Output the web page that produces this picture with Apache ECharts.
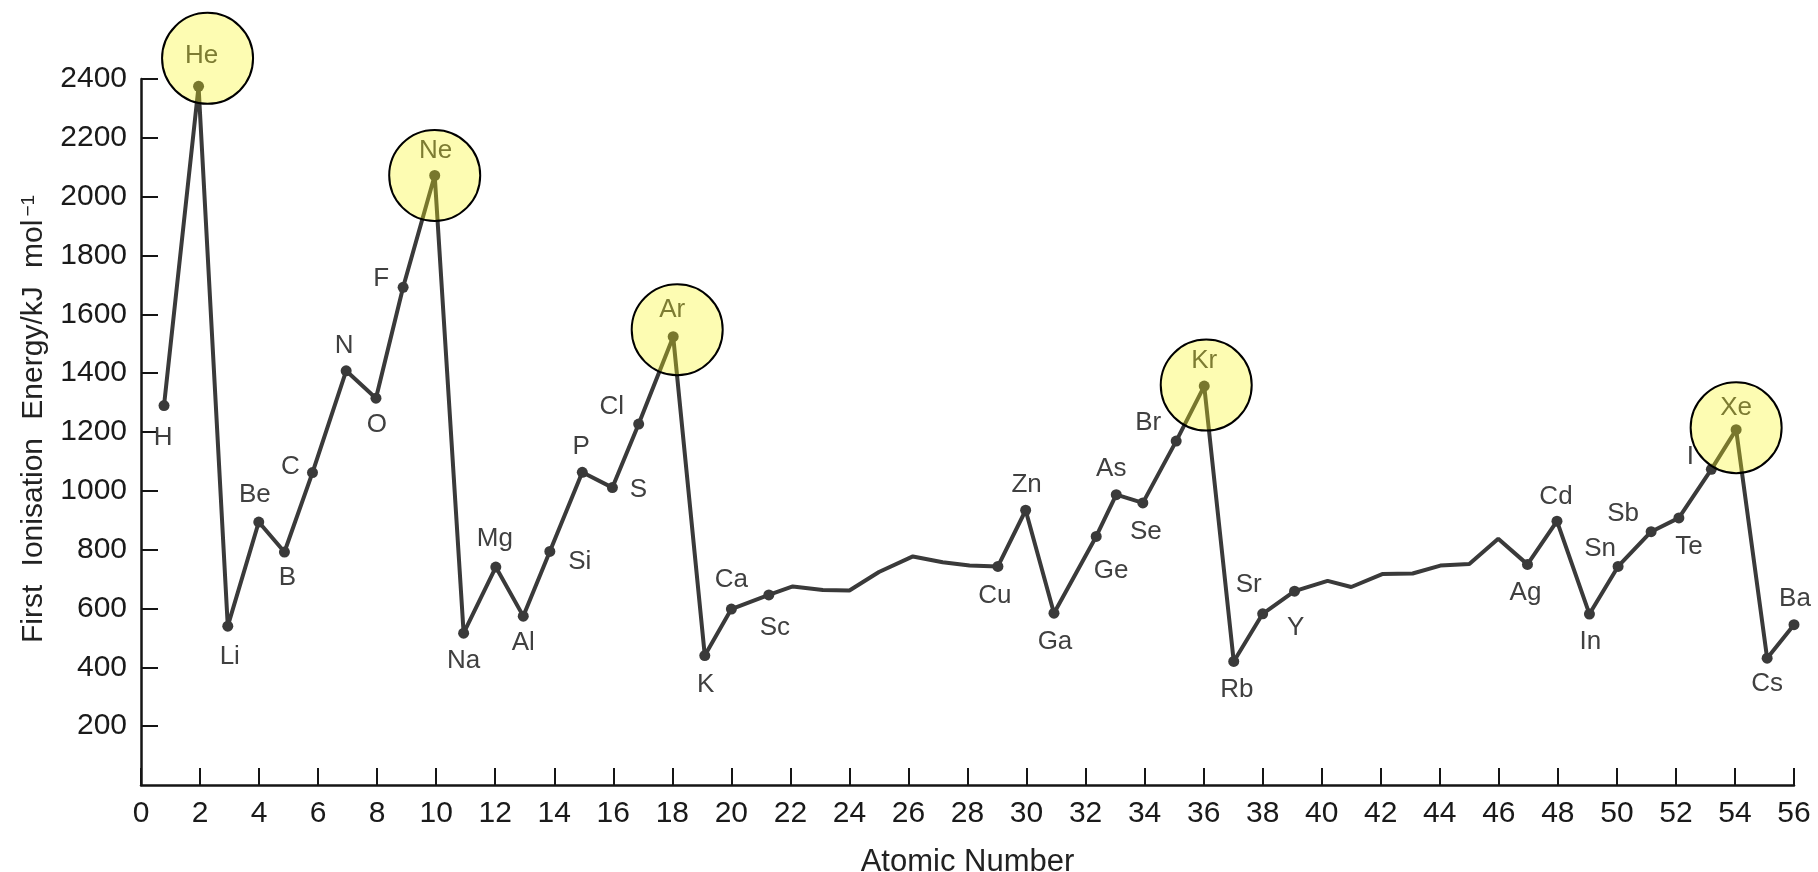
<!DOCTYPE html>
<html>
<head>
<meta charset="utf-8">
<script src="https://cdn.jsdelivr.net/npm/echarts@6/dist/echarts.min.js"></script>
<style>
html,body{margin:0;padding:0;background:#fff;}
#chart{width:1818px;height:872px;}
</style>
</head>
<body>
<div id="chart"></div>
<script>
// ---- data ----
const elements = ['H','He','Li','Be','B','C','N','O','F','Ne','Na','Mg','Al','Si','P','S','Cl','Ar','K','Ca','Sc','Ti','V','Cr','Mn','Fe','Co','Ni','Cu','Zn','Ga','Ge','As','Se','Br','Kr','Rb','Sr','Y','Zr','Nb','Mo','Tc','Ru','Rh','Pd','Ag','Cd','In','Sn','Sb','Te','I','Xe','Cs','Ba'];
// atomic-number position as plotted in the picture
const plotPos = [0.78,1.95,2.94,3.99,4.86,5.81,6.95,7.96,8.88,9.95,10.93,12.02,12.95,13.85,14.95,15.97,16.86,18.03,19.1,20.0,21.27,22.08,23.1,24.0,25.0,26.15,27.16,28.07,29.03,29.97,30.93,32.36,33.04,33.94,35.07,36.02,37.02,38.0,39.08,40.2,41.0,42.05,43.08,44.02,45.0,45.98,46.97,47.97,49.07,50.04,51.16,52.1,53.2,54.04,55.09,56.0];
// first ionisation energy, kJ/mol
const energy = [1290,2375,540,894,792,1062,1408,1315,1692,2072,516,741,574,794,1063,1011,1227,1524,440,598,646,675,663,661,724,777,757,746,743,934,584,845,987,959,1169,1356,420,582,659,694,673,717,719,746,751,837,750,897,581,743,861,908,1073,1208,431,545];
const unlabelled = ['Ti','V','Cr','Mn','Fe','Co','Ni','Zr','Nb','Mo','Tc','Ru','Rh','Pd'];
const highlighted = ['He','Ne','Ar','Kr','Xe'];
const xTicks = {min: 0, max: 56, step: 2};
const yTicks = {min: 0, max: 2400, step: 200};
const xName = 'Atomic Number';
const yNameWords = ['First', 'Ionisation', 'Energy/kJ', 'mol'];
const yNameSup = '\u22121';

// ---- styling (label placement relative to each point, circle offsets) ----
const labelOffset = {H:[-1,32],He:[3,-31],Li:[2,31],Be:[-4,-27],B:[3,26],C:[-22,-6],N:[-2,-25],O:[1,27],F:[-22,-8],Ne:[1,-25],Na:[0,28],Mg:[-1,-28],Al:[0,27],Si:[30,10],P:[-1,-25],S:[26,2],Cl:[-27,-17],Ar:[-1,-27],K:[1,29],Ca:[0,-29],Sc:[6,33],Cu:[-3,29],Zn:[1,-25],Ga:[1,29],Ge:[15,34],As:[-5,-26],Se:[3,29],Br:[-28,-18],Kr:[0,-25],Rb:[3,28],Sr:[-14,-29],Y:[1,37],Ag:[-2,28],Cd:[-1,-24],In:[1,28],Sn:[-18,-18],Sb:[-28,-18],Te:[10,29],I:[-21,-13],Xe:[0,-22],Cs:[0,26],Ba:[1,-26]};
const circleOffset = {He:[9,-28],Ne:[0,0],Ar:[4,-7],Kr:[2,-1],Xe:[0,-2]};

const FONT = "'Liberation Sans', Arial, Helvetica, sans-serif";
const LINE = '#3a3a3a';
const TEXT = '#404040';
const AXIS = '#151515';

const lineData = elements.map((el, i) => {
  const shown = unlabelled.indexOf(el) < 0;
  const item = {name: el, value: [plotPos[i], energy[i]]};
  if (shown) {
    item.symbol = 'circle';
    item.label = {show: true, formatter: el, position: 'inside', offset: labelOffset[el] || [0, -25]};
  } else {
    item.symbol = 'none';
    item.label = {show: false};
  }
  return item;
});

const circleData = highlighted.map(el => {
  const i = elements.indexOf(el);
  return {name: el, value: [plotPos[i], energy[i]], symbolOffset: circleOffset[el]};
});

// y-axis name as rich text: words separated by slightly widened spaces, superscript −1
const yNameRich = yNameWords.map(w => '{t|' + w + '}').join('{g| }') + '{s|' + yNameSup + '}';

const chart = echarts.init(document.getElementById('chart'), null, {renderer: 'canvas'});
chart.setOption({
  animation: false,
  backgroundColor: '#ffffff',
  grid: {left: 141, right: 24, top: 79, bottom: 87, containLabel: false, outerBoundsMode: 'none'},
  xAxis: {
    type: 'value', min: xTicks.min, max: xTicks.max, interval: xTicks.step,
    name: xName, nameLocation: 'middle', nameGap: 62,
    nameTextStyle: {fontFamily: FONT, fontSize: 31, color: '#222'},
    axisLine: {show: true, lineStyle: {color: AXIS, width: 2.5}},
    axisTick: {show: true, inside: true, length: 17, lineStyle: {color: AXIS, width: 2}},
    axisLabel: {fontFamily: FONT, fontSize: 30, color: '#1a1a1a', margin: 14, formatter: v => String(v)},
    splitLine: {show: false}
  },
  yAxis: {
    type: 'value', min: yTicks.min, max: yTicks.max, interval: yTicks.step,
    name: yNameRich, nameLocation: 'middle', nameGap: 92,
    nameTextStyle: {
      fontFamily: FONT, fontSize: 30, color: '#222',
      padding: [0, 0, 0, 26],
      rich: {
        t: {fontFamily: FONT, fontSize: 30, color: '#222'},
        g: {fontFamily: FONT, fontSize: 30, color: '#222', padding: [0, 5]},
        s: {fontFamily: FONT, fontSize: 19, color: '#222', verticalAlign: 'top', padding: [0, 0, 0, 3]}
      }
    },
    axisLine: {show: true, lineStyle: {color: AXIS, width: 2.5}},
    axisTick: {show: true, inside: true, length: 17, lineStyle: {color: AXIS, width: 2}},
    axisLabel: {fontFamily: FONT, fontSize: 30, color: '#1a1a1a', margin: 14, showMinLabel: false, formatter: v => String(v)},
    splitLine: {show: false}
  },
  series: [
    {
      type: 'line',
      z: 2,
      clip: false,
      data: lineData,
      symbolSize: 11,
      showAllSymbol: true,
      lineStyle: {color: LINE, width: 4},
      itemStyle: {color: LINE},
      label: {fontFamily: FONT, fontSize: 26, color: TEXT},
      emphasis: {disabled: true},
      silent: true
    },
    {
      type: 'scatter',
      z: 6,
      silent: true,
      data: circleData,
      symbol: 'circle',
      symbolSize: 91,
      itemStyle: {color: 'rgba(250,245,20,0.33)', borderColor: '#000', borderWidth: 2, opacity: 1},
      emphasis: {disabled: true}
    }
  ]
});
</script>
</body>
</html>
